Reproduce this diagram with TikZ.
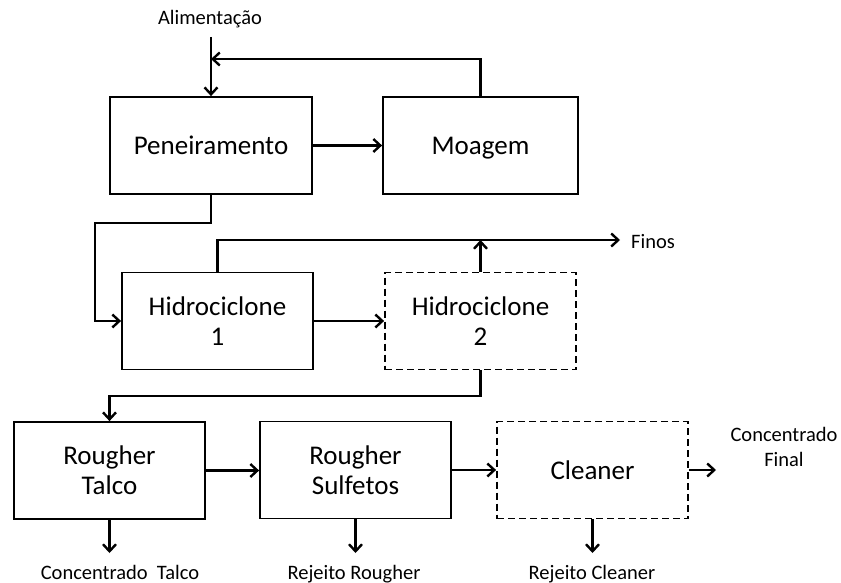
\documentclass[tikz,border=0pt]{standalone}
\usepackage{fontspec}
\setmainfont{Carlito}
\usetikzlibrary{arrows.meta}
\begin{document}
\begin{tikzpicture}[x=1pt,y=-1pt,
  box/.style={draw,line width=1.8pt,minimum width=191pt,minimum height=97pt,inner sep=0pt,align=center,font=\fontsize{27}{30}\selectfont},
  dbox/.style={box,dash pattern=on 7pt off 4pt},
  lbl/.style={inner sep=0pt,align=center,font=\fontsize{20.5}{25}\selectfont},
  arr/.style={line width=2.8pt,-{Straight Barb[length=7pt,width=13pt,line width=2.4pt]}}]
\useasboundingbox (0,0) rectangle (841,583);
% boxes
\node[box,minimum width=202pt] (pen) at (211,145.5) {Peneiramento};
\node[box,minimum width=195pt,text depth=0pt] (moa) at (480.5,145.5) {Moagem};
\node[box] (h1) at (217.5,321) {Hidrociclone\\1};
\node[dbox] (h2) at (480.5,321) {Hidrociclone\\2};
\node[box] (rt) at (109.5,470.5) {Rougher\\Talco};
\node[box] (rs) at (355.5,470) {Rougher\\Sulfetos};
\node[dbox] (cl) at (592.5,470) {Cleaner};
% labels
\node[lbl,anchor=base] (ali) at (210,25) {Alimentação};
\node[lbl,anchor=base west] (fin) at (631,248) {Finos};
\node[lbl,anchor=base] (cf) at (784,466) {Concentrado\\Final};
\node[lbl,anchor=base] (ct) at (120,579) {Concentrado~~Talco};
\node[lbl,anchor=base] (rr) at (354,579) {Rejeito Rougher};
\node[lbl,anchor=base] (rc) at (592,579) {Rejeito Cleaner};
% coordinates
\coordinate (feed) at (pen.north |- 0,37);
\coordinate (jn) at (pen.north |- 0,59);
\coordinate (finend) at (620,240);
\coordinate (cfend) at (716,470);
% connectors
\draw[arr] (feed) -- (pen.north);
\draw[arr] (moa.north) |- (jn);
\draw[arr] (pen.east) -- (moa.west);
\draw[arr] (pen.south) -- (pen.south |- 0,223) -- (95,223) |- (h1.west);
\draw[arr] (h1.north) |- (finend);
\draw[arr] (h2.north) -- (h2.north |- finend);
\draw[arr] (h1.east) -- (h2.west);
\draw[arr] (h2.south) -- (h2.south |- 0,396) -| (rt.north);
\draw[arr] (rt.east) -- (rs.west |- rt.east);
\draw[arr] (rs.east) -- (cl.west);
\draw[arr] (cl.east) -- (cfend);
\draw[arr] (rt.south) -- (rt.south |- 0,553);
\draw[arr] (rs.south) -- (rs.south |- 0,553);
\draw[arr] (cl.south) -- (cl.south |- 0,553);
\end{tikzpicture}
\end{document}
